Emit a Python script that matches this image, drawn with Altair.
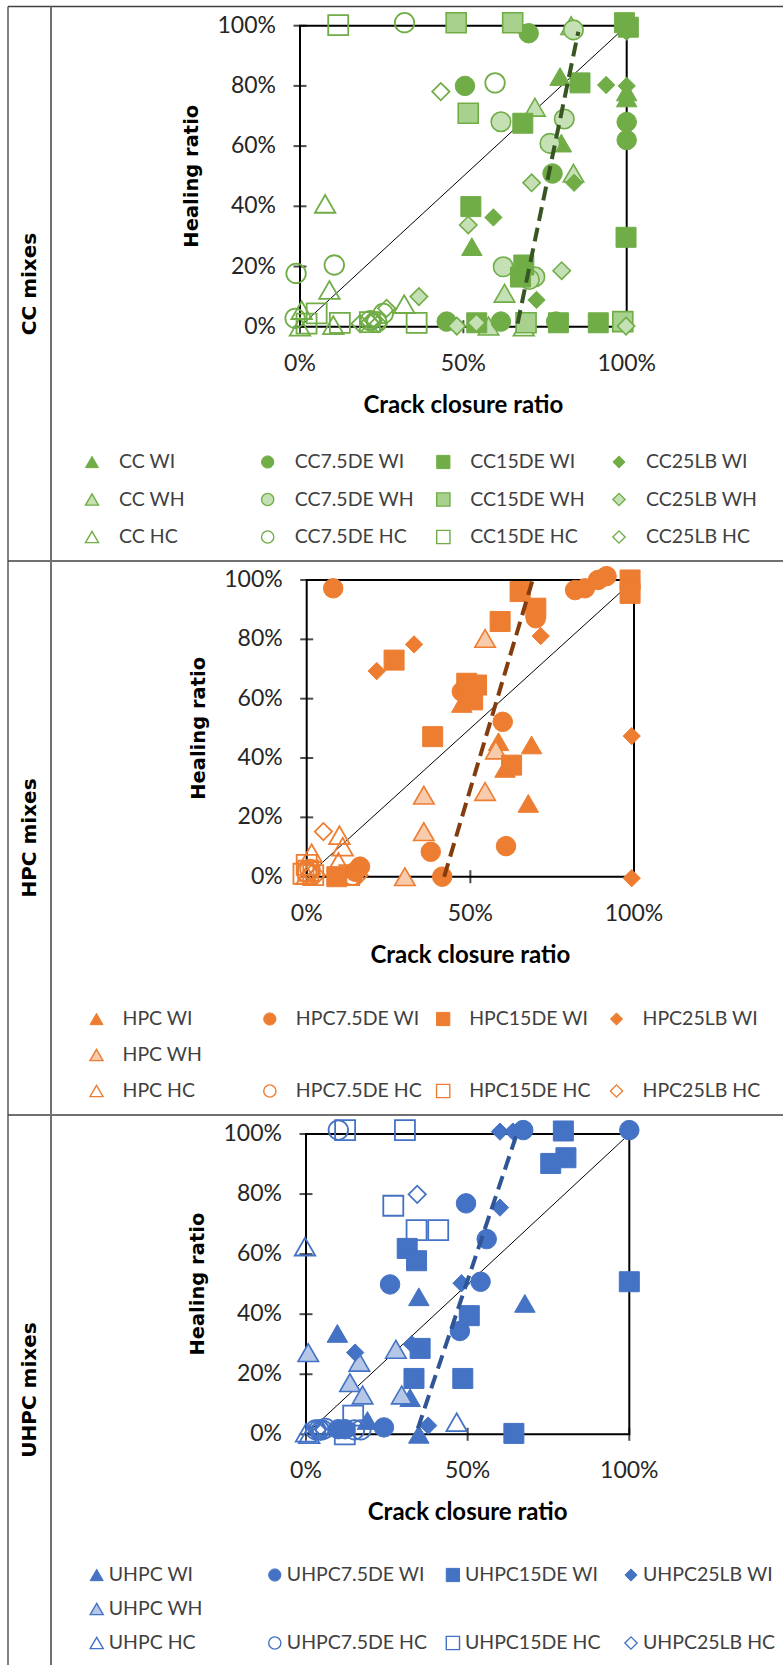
import altair as alt
import pandas as pd

# ---------------- values (percent) ----------------
# CC mixes
CC_WI = [(79.6, 83.1), (100, 78), (100, 76), (80, 61), (52.6, 26.6)]
CC_WH = [(83, 100), (71.9, 72.9), (83.7, 51), (62.6, 11.1), (57.7, 0.2)]
CC_HC = [(7.7, 40.8), (9, 12.2), (31.9, 7.5), (0.5, 5.5), (0, 0), (10.2, 0.5), (68.5, 0)]
CC75_WI = [(70, 97.5), (50.5, 80), (100, 68), (100, 62), (77.3, 50.9), (44.9, 1.7), (61.5, 1.7), (78.4, 1.7)]
CC75_WH = [(83.7, 98.6), (61.5, 68.1), (80.9, 69), (76.5, 60.9), (62.2, 19.9), (71.9, 16.6), (70.2, 15.7)]
CC75_HC = [(32, 101), (59.7, 81), (-1.2, 17.7), (10.5, 20.5), (25.5, 4.4), (21.5, 2), (23.5, 1.5), (-1.5, 2.8)]
CC15_WI = [(99.3, 101), (100.5, 99.5), (85.7, 81), (68.2, 67.6), (52.3, 39.9), (99.8, 29.7), (68.5, 20.5),
           (67.5, 16.5), (54.1, 1.3), (79.1, 1.3), (91.3, 1.3)]
CC15_WH = [(47.8, 101), (65.1, 101), (51.5, 70.9), (69.2, 1.3), (98.8, 1.7)]
CC15_HC = [(11.7, 100.2), (5.1, 4.4), (2, 1), (12.2, 1.3), (21.4, 1.5), (35.7, 1.3)]
CC25_WI = [(100, 98), (93.7, 80.3), (100, 80), (83.9, 47.8), (59.2, 36.3), (72.4, 8.9)]
CC25_WH = [(70.9, 47.8), (51.5, 33.8), (80.1, 18.6), (36.4, 10), (48, 0.2), (54, 1.3), (99.8, 0.2)]
CC25_HC = [(43.1, 78.1), (26.5, 6.1), (22.4, 2), (21.4, 1.5), (18.4, 1), (24, 1)]
CC_TREND = [(66.6, 1), (85.2, 98)]

# HPC mixes
HPC_WI = [(47.4, 58.4), (58.6, 45.5), (68.7, 44.4), (60.6, 36.5), (67.7, 24.7)]
HPC_WH = [(54.5, 80.3), (57.8, 42.7), (54.5, 28.7), (35.8, 27.5), (35.8, 15.2), (30, 0)]
HPC_HC = [(10, 14), (11, 10.1), (1.5, 7.9), (9.7, 5), (0, 0.5)]
HPC75_WI = [(8.1, 97.2), (82, 96.6), (85, 97.2), (89, 100), (91.6, 101.3), (70, 87.1), (47.4, 62.4),
            (59.9, 52.2), (37.9, 8.4), (60.9, 10.3), (16.3, 3.4), (14.8, 1.7), (41.4, 0)]
HPC75_HC = [(0, 1.5), (1, 2.5), (14, 0.5)]
HPC15_WI = [(65.2, 96.1), (70, 90.5), (59.1, 86), (26.7, 73), (98.8, 100), (98.8, 95.5), (48.9, 65.2),
            (51.9, 64.6), (50.7, 59.6), (38.5, 47.2), (62.6, 37.6), (9.2, 0)]
HPC15_HC = [(0, 4), (0.5, 2), (-1, 1), (13, 0.5), (2, 0.5)]
HPC25_WI = [(71.5, 81.1), (32.8, 78.3), (21.4, 69.3), (99.3, 47.4), (99.3, -0.5)]
HPC25_HC = [(5.1, 15.2), (1.5, 1), (16, 0.5), (3, 0.5)]
HPC_TREND = [(42, 0), (69.3, 101)]

# UHPC mixes
UHPC_WI = [(34.9, 45.8), (67.7, 43.6), (9.7, 33.6), (32.2, 12.2), (19, 4.6), (34.9, 0)]
UHPC_WH = [(0.7, 27.2), (16.5, 24), (27.8, 28.3), (13.6, 17.2), (17.5, 13.1), (29.6, 13.1)]
UHPC_HC = [(-0.3, 62.5), (46.6, 4), (0, 0.5), (1, 0)]
UHPC75_WI = [(67.2, 101.3), (100, 101.3), (49.5, 76.9), (55.9, 65), (26, 49.9), (54, 50.8), (47.6, 34.4),
             (24.1, 2.3), (10, 1.7), (12.1, 1.7)]
UHPC75_HC = [(10, 101.3), (3, 1.5), (4, 1.5), (5, 1.5), (6, 2), (15, 1.5), (17, 1.5)]
UHPC15_WI = [(79.6, 101), (80.4, 92.1), (75.7, 90.2), (31.3, 61.9), (34.2, 57.8), (100, 50.8), (50.5, 39.5),
             (35.3, 28.6), (33.4, 18.6), (48.5, 18.6), (64.3, 0.3)]
UHPC15_HC = [(12.1, 101.3), (30.6, 101.3), (27, 76.1), (34.2, 68), (40.9, 68), (14.6, 6.2), (12, 0)]
UHPC25_WI = [(60, 100.8), (64, 100.8), (60, 75.5), (48.1, 50.3), (15.2, 27.2), (32.7, 30), (37.8, 2.9)]
UHPC25_HC = [(34.4, 79.9), (3.5, 1.5), (4.5, 1), (5.5, 1.5)]
UHPC_TREND = [(34.6, 2), (65.2, 100)]

Y_TICKS = [0, 0.2, 0.4, 0.6, 0.8, 1.0]
Y_TICK_LABELS = ["0%", "20%", "40%", "60%", "80%", "100%"]
X_TICKS = [0, 0.5, 1.0]
X_TICK_LABELS = ["0%", "50%", "100%"]

MIX_SHAPES = ["triangle-up", "circle", "square", "diamond"]
CONDITIONS = ["WI", "WH", "HC"]
PLOT_SIZE = {"triangle-up": 420, "circle": 380, "square": 400, "diamond": 300}
LEG_SIZE = {"triangle-up": 170, "circle": 150, "square": 175, "diamond": 150}

TICK_FONT = "Lato"
TEXT_COLOR = "#262626"

GROUPS = [
    dict(prefix="CC", base="#70AD47", light="#C5E0B4", light_sq="#A9D18E", trend_color="#375623",
         series=[["CC WI", "CC7.5DE WI", "CC15DE WI", "CC25LB WI"],
                 ["CC WH", "CC7.5DE WH", "CC15DE WH", "CC25LB WH"],
                 ["CC HC", "CC7.5DE HC", "CC15DE HC", "CC25LB HC"]],
         points=[[CC_WI, CC75_WI, CC15_WI, CC25_WI],
                 [CC_WH, CC75_WH, CC15_WH, CC25_WH],
                 [CC_HC, CC75_HC, CC15_HC, CC25_HC]],
         trend=CC_TREND, xr=[300, 626.7], yr=[326.7, 25.7],
         leg_x=[92, 619], leg_y=[462, 537], leg_dx=27, label="CC mixes", label_y=284),
    dict(prefix="HPC", base="#ED7D31", light="#F8CBAD", light_sq="#F4B183", trend_color="#843C0C",
         series=[["HPC WI", "HPC7.5DE WI", "HPC15DE WI", "HPC25LB WI"],
                 ["HPC WH", None, None, None],
                 ["HPC HC", "HPC7.5DE HC", "HPC15DE HC", "HPC25LB HC"]],
         points=[[HPC_WI, HPC75_WI, HPC15_WI, HPC25_WI],
                 [HPC_WH, None, None, None],
                 [HPC_HC, HPC75_HC, HPC15_HC, HPC25_HC]],
         trend=HPC_TREND, xr=[306.7, 634], yr=[876.7, 580],
         leg_x=[96.5, 616.5], leg_y=[1019, 1091], leg_dx=26, label="HPC mixes", label_y=838),
    dict(prefix="UHPC", base="#4472C4", light="#B4C7E7", light_sq="#8FAADC", trend_color="#2F5597",
         series=[["UHPC WI", "UHPC7.5DE WI", "UHPC15DE WI", "UHPC25LB WI"],
                 ["UHPC WH", None, None, None],
                 ["UHPC HC", "UHPC7.5DE HC", "UHPC15DE HC", "UHPC25LB HC"]],
         points=[[UHPC_WI, UHPC75_WI, UHPC15_WI, UHPC25_WI],
                 [UHPC_WH, None, None, None],
                 [UHPC_HC, UHPC75_HC, UHPC15_HC, UHPC25_HC]],
         trend=UHPC_TREND, xr=[306, 629.3], yr=[1434.3, 1134],
         leg_x=[96.7, 631], leg_y=[1575, 1643], leg_dx=12, label="UHPC mixes", label_y=1390),
]


def style(g, row, shape):
    if row == 0:
        return g["base"], g["base"], 1.0
    if row == 1:
        return (g["light_sq"] if shape == "square" else g["light"]), g["base"], 1.6
    return "rgba(255,255,255,0)", g["base"], 1.8


def points_df(g):
    rows = []
    for col in range(4):
        for r in range(3):
            name = g["series"][r][col]
            pts = g["points"][r][col]
            if name is None:
                continue
            shape = MIX_SHAPES[col]
            fill, stroke, sw = style(g, r, shape)
            for (x, y) in pts:
                rows.append(dict(series=name, x=x / 100, y=y / 100, shape=shape, fill=fill,
                                 stroke=stroke, sw=sw, size=PLOT_SIZE[shape]))
    return pd.DataFrame(rows)


def legend_df(g):
    rows = []
    for r in range(3):
        for col in range(4):
            name = g["series"][r][col]
            if name is None:
                continue
            shape = MIX_SHAPES[col]
            fill, stroke, sw = style(g, r, shape)
            rows.append(dict(series=name, col=col, row=r, shape=shape, fill=fill, stroke=stroke,
                             sw=min(sw, 1.4), size=LEG_SIZE[shape]))
    return pd.DataFrame(rows)


def panel(g):
    xs = alt.Scale(domain=[0, 1], range=g["xr"], nice=False, zero=False)
    ys = alt.Scale(domain=[0, 1], range=g["yr"], nice=False, zero=False)

    def X(f):
        return alt.X(f, type="quantitative", scale=xs, axis=None)

    def Y(f):
        return alt.Y(f, type="quantitative", scale=ys, axis=None)

    box = alt.Chart(pd.DataFrame({"x": [0], "x2": [1], "y": [0], "y2": [1]})).mark_rect(
        fill="transparent", stroke="black", strokeWidth=2
    ).encode(x=X("x"), x2="x2", y=Y("y"), y2="y2")

    ytick_df = pd.DataFrame({"x": [0] * len(Y_TICKS), "y": Y_TICKS, "t": Y_TICK_LABELS})
    xtick_df = pd.DataFrame({"x": X_TICKS, "y": [0] * len(X_TICKS), "t": X_TICK_LABELS})

    ytick = alt.Chart(ytick_df).mark_tick(orient="horizontal", size=13, thickness=2, color="black").encode(
        x=X("x"), y=Y("y"))
    xtick = alt.Chart(xtick_df).mark_tick(orient="vertical", size=13, thickness=2, color="black").encode(
        x=X("x"), y=Y("y"))
    ylab = alt.Chart(ytick_df).mark_text(align="right", baseline="middle", dx=-24, font=TICK_FONT,
                                         fontSize=23, color=TEXT_COLOR).encode(x=X("x"), y=Y("y"), text="t:N")
    xlab = alt.Chart(xtick_df).mark_text(align="center", baseline="middle", dy=37, font=TICK_FONT,
                                         fontSize=23, color=TEXT_COLOR).encode(x=X("x"), y=Y("y"), text="t:N")
    xtitle = alt.Chart(pd.DataFrame({"x": [0.5], "y": [0], "t": ["Crack closure ratio"]})).mark_text(
        align="center", baseline="middle", dy=79, font=TICK_FONT, fontWeight="bold", fontSize=24, color="black"
    ).encode(x=X("x"), y=Y("y"), text="t:N")
    ytitle = alt.Chart(pd.DataFrame({"x": [0], "y": [0.5], "t": ["Healing ratio"]})).mark_text(
        align="center", baseline="middle", angle=270, dy=-108, font="DejaVu Sans", fontWeight="bold",
        fontSize=19.5, color="black"
    ).encode(x=X("x"), y=Y("y"), text="t:N")

    diag = alt.Chart(pd.DataFrame({"x": [0, 1], "y": [0, 1]})).mark_line(color="black", strokeWidth=1).encode(
        x=X("x"), y=Y("y"))
    trend = alt.Chart(pd.DataFrame({"x": [p[0] / 100 for p in g["trend"]],
                                    "y": [p[1] / 100 for p in g["trend"]]})).mark_line(
        color=g["trend_color"], strokeWidth=4, strokeDash=[14, 7]).encode(x=X("x"), y=Y("y"))

    pts = alt.Chart(points_df(g)).mark_point(opacity=1, filled=False).encode(
        x=X("x"), y=Y("y"),
        shape=alt.Shape("shape:N", scale=None, legend=None),
        fill=alt.Fill("fill:N", scale=None, legend=None),
        stroke=alt.Stroke("stroke:N", scale=None, legend=None),
        size=alt.Size("size:Q", scale=None, legend=None),
        strokeWidth=alt.StrokeWidth("sw:Q", scale=None, legend=None),
    )
    return alt.layer(box, diag, ytick, xtick, ylab, xlab, xtitle, ytitle, pts, trend)


def legend(g):
    xs = alt.Scale(domain=[0, 3], range=g["leg_x"], nice=False, zero=False)
    ys = alt.Scale(domain=[0, 2], range=g["leg_y"], nice=False, zero=False)
    df = legend_df(g)
    enc = dict(x=alt.X("col:Q", scale=xs, axis=None), y=alt.Y("row:Q", scale=ys, axis=None))
    sym = alt.Chart(df).mark_point(opacity=1, filled=False).encode(
        shape=alt.Shape("shape:N", scale=None, legend=None),
        fill=alt.Fill("fill:N", scale=None, legend=None),
        stroke=alt.Stroke("stroke:N", scale=None, legend=None),
        size=alt.Size("size:Q", scale=None, legend=None),
        strokeWidth=alt.StrokeWidth("sw:Q", scale=None, legend=None),
        **enc)
    txt = alt.Chart(df).mark_text(align="left", baseline="middle", dx=g["leg_dx"], font=TICK_FONT,
                                  fontSize=19.5, color="#404040").encode(text="series:N", **enc)
    return alt.layer(sym, txt)


one = pd.DataFrame({"a": [0]})


def hrule(y, x1, x2, color="#404040", w=1.3):
    return alt.Chart(one).mark_rule(color=color, strokeWidth=w).encode(
        x=alt.value(x1), x2=alt.value(x2), y=alt.value(y))


def vrule(x, y1, y2, color="#404040", w=1.3):
    return alt.Chart(one).mark_rule(color=color, strokeWidth=w).encode(
        x=alt.value(x), y=alt.value(y1), y2=alt.value(y2))


layers = []
for g in GROUPS:
    layers.append(panel(g))
    layers.append(legend(g))
    layers.append(alt.Chart(one).mark_text(angle=270, align="center", baseline="middle", font="DejaVu Sans",
                                           fontWeight="bold", fontSize=20, color="black").encode(
        x=alt.value(30), y=alt.value(g["label_y"]), text=alt.value(g["label"])))

layers += [
    hrule(6.5, 8, 783), hrule(561, 8, 783), hrule(1115, 8, 783),
    vrule(8, 6.5, 1665), vrule(51, 6.5, 1665, color="#707070", w=2),
]

chart = alt.layer(*layers).resolve_scale(x="independent", y="independent").properties(
    width=783, height=1665, padding=0, autosize=alt.AutoSizeParams(type="none")
).configure_view(strokeWidth=0)

chart.save("out.html", embed_options={"renderer": "svg", "actions": False})
